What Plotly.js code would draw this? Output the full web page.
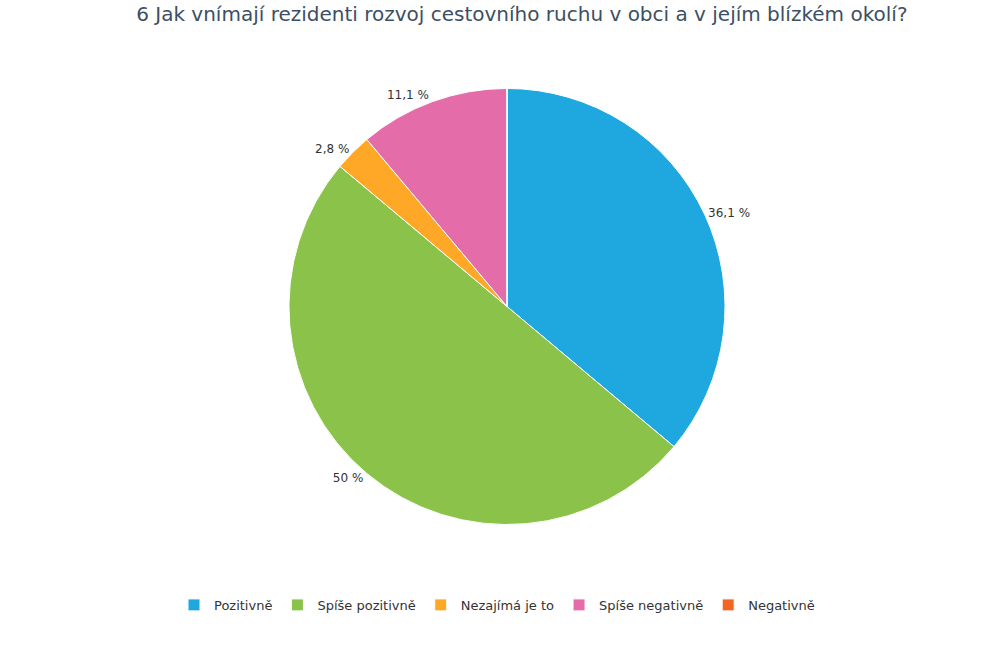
<!DOCTYPE html>
<html>
<head>
<meta charset="utf-8">
<script src="https://cdn.plot.ly/plotly-3.0.1.min.js"></script>
<style>
  body { margin: 0; background: #fff; }
  #plot { width: 994px; height: 647px; }
</style>
</head>
<body>
<div id="plot"></div>
<script>
var chartTitle = "6 Jak vnímají rezidenti rozvoj cestovního ruchu v obci a v jejím blízkém okolí?";
var categories = ["Pozitivně", "Spíše pozitivně", "Nezajímá je to", "Spíše negativně", "Negativně"];
var counts = [13, 18, 1, 4, 0];
var colors = ["#1fa8df", "#8bc34a", "#ffa726", "#e46ca9", "#f26522"];

var total = counts.reduce(function (a, b) { return a + b; }, 0);
// czech style percent labels, empty slices get no label
var labelText = counts.map(function (v) {
  if (v === 0) return "";
  var p = (v / total * 100).toFixed(1).replace(/\.0$/, "").replace(".", ",");
  return p + " %";
});

var data = [{
  type: "pie",
  labels: categories,
  values: counts,
  text: labelText,
  textinfo: "text",
  textposition: "outside",
  hoverinfo: "label+percent",
  sort: false,
  direction: "clockwise",
  rotation: 0,
  automargin: false,
  marker: {colors: colors, line: {color: "#ffffff", width: 1}},
  outsidetextfont: {family: "DejaVu Sans", size: 12, color: "#333333"},
  domain: {x: [0.2907, 0.7294], y: [0.1886, 0.864]}
}];

var layout = {
  width: 994,
  height: 647,
  margin: {l: 0, r: 0, t: 0, b: 0},
  paper_bgcolor: "#ffffff",
  title: {
    text: chartTitle,
    x: 0.525, xanchor: "center",
    y: 1 - 14 / 647, yanchor: "middle",
    font: {family: "DejaVu Sans", size: 20, color: "#3d4f63"}
  },
  showlegend: true,
  legend: {
    orientation: "h",
    x: 0.5, xanchor: "center",
    y: 0.065, yanchor: "middle",
    traceorder: "normal",
    font: {family: "DejaVu Sans", size: 13, color: "#333333"}
  }
};

Plotly.newPlot("plot", data, layout, {displayModeBar: false});
</script>
</body>
</html>
